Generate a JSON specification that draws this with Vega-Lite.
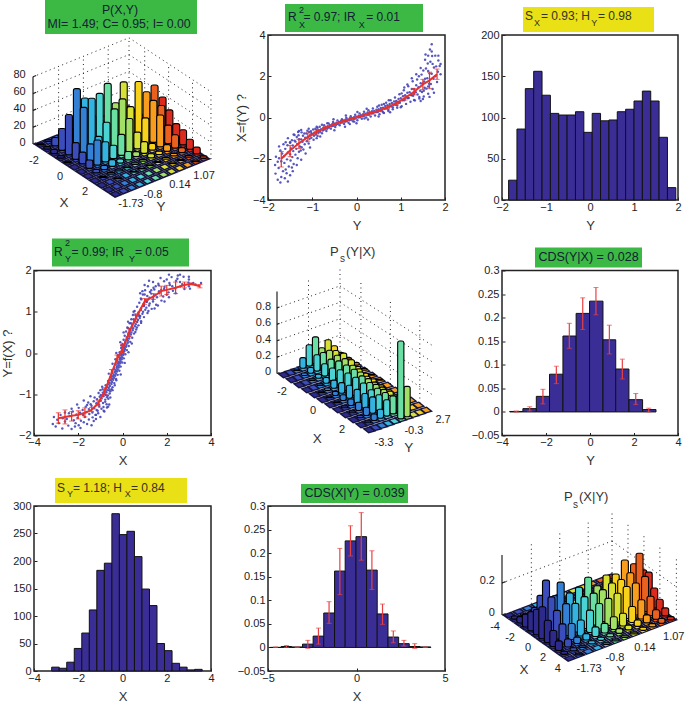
{"$schema":"https://vega.github.io/schema/vega-lite/v6.json","padding":{"left":0,"top":0,"right":0,"bottom":0},"background":"white",
"config":{"font":"Liberation Sans","view":{"stroke":"#222","strokeWidth":1.5},"axis":{"grid":false,"domain":false,"tickSize":-3,"tickColor":"#222","labelPadding":6,"labelFontSize":11,"labelColor":"#222","titleFontSize":13,"titleFontWeight":"normal","titleColor":"#333","labelFlush":false,"labelOverlap":false},"axisX":{"labelPadding":4},"text":{"font":"Liberation Sans","color":"#222"}},
"datasets":{
"pts":[{"X":-3.15,"Y":-1.72},{"X":-3.02,"Y":-1.78},{"X":-2.88,"Y":-1.7},{"X":-2.72,"Y":-1.83},{"X":-2.6,"Y":-1.66},{"X":-2.45,"Y":-1.76},{"X":-2.3,"Y":-1.84},{"X":-2.12,"Y":-1.7},{"X":-1.98,"Y":-1.75},{"X":-1.75,"Y":-1.68},{"X":-3.1,"Y":-1.55},{"X":-2.95,"Y":-1.62},{"X":-2.7,"Y":-1.58},{"X":-2.52,"Y":-1.6},{"X":-2.38,"Y":-1.53},{"X":-2.2,"Y":-1.63},{"X":-2.03,"Y":-1.57},{"X":-1.88,"Y":-1.64},{"X":-1.7,"Y":-1.55},{"X":-1.52,"Y":-1.61},{"X":-2.42,"Y":-1.46},{"X":-2.25,"Y":-1.42},{"X":-2.08,"Y":-1.49},{"X":-1.92,"Y":-1.45},{"X":-1.78,"Y":-1.5},{"X":-1.63,"Y":-1.43},{"X":-1.5,"Y":-1.48},{"X":-1.36,"Y":-1.44},{"X":-1.22,"Y":-1.5},{"X":-1.1,"Y":-1.46},{"X":-1.98,"Y":-1.33},{"X":-1.8,"Y":-1.38},{"X":-1.66,"Y":-1.3},{"X":-1.52,"Y":-1.36},{"X":-1.4,"Y":-1.28},{"X":-1.28,"Y":-1.34},{"X":-1.17,"Y":-1.38},{"X":-1.05,"Y":-1.3},{"X":-0.95,"Y":-1.35},{"X":-0.86,"Y":-1.31},{"X":-1.55,"Y":-1.2},{"X":-1.44,"Y":-1.24},{"X":-1.3,"Y":-1.17},{"X":-1.18,"Y":-1.22},{"X":-1.06,"Y":-1.25},{"X":-0.98,"Y":-1.16},{"X":-0.88,"Y":-1.21},{"X":-0.78,"Y":-1.18},{"X":-0.72,"Y":-1.24},{"X":-1.26,"Y":-1.08},{"X":-1.15,"Y":-1.12},{"X":-1.03,"Y":-1.06},{"X":-0.94,"Y":-1.1},{"X":-0.86,"Y":-1.05},{"X":-0.78,"Y":-1.13},{"X":-0.7,"Y":-1.07},{"X":-0.64,"Y":-1.11},{"X":-1.08,"Y":-0.97},{"X":-0.98,"Y":-1.02},{"X":-0.89,"Y":-0.96},{"X":-0.81,"Y":-1},{"X":-0.73,"Y":-0.95},{"X":-0.66,"Y":-1.03},{"X":-0.58,"Y":-0.98},{"X":-0.9,"Y":-0.88},{"X":-0.82,"Y":-0.92},{"X":-0.74,"Y":-0.86},{"X":-0.68,"Y":-0.9},{"X":-0.62,"Y":-0.85},{"X":-0.55,"Y":-0.93},{"X":-0.5,"Y":-0.88},{"X":-0.76,"Y":-0.78},{"X":-0.69,"Y":-0.82},{"X":-0.63,"Y":-0.76},{"X":-0.57,"Y":-0.8},{"X":-0.5,"Y":-0.75},{"X":-0.45,"Y":-0.83},{"X":-0.65,"Y":-0.68},{"X":-0.58,"Y":-0.72},{"X":-0.53,"Y":-0.66},{"X":-0.47,"Y":-0.7},{"X":-0.42,"Y":-0.65},{"X":-0.37,"Y":-0.73},{"X":-0.54,"Y":-0.58},{"X":-0.48,"Y":-0.62},{"X":-0.43,"Y":-0.56},{"X":-0.38,"Y":-0.6},{"X":-0.33,"Y":-0.55},{"X":-0.29,"Y":-0.63},{"X":-0.46,"Y":-0.48},{"X":-0.4,"Y":-0.52},{"X":-0.35,"Y":-0.46},{"X":-0.3,"Y":-0.5},{"X":-0.25,"Y":-0.45},{"X":-0.22,"Y":-0.53},{"X":-0.38,"Y":-0.38},{"X":-0.31,"Y":-0.42},{"X":-0.27,"Y":-0.36},{"X":-0.22,"Y":-0.4},{"X":-0.17,"Y":-0.35},{"X":-0.14,"Y":-0.43},{"X":-0.31,"Y":-0.28},{"X":-0.24,"Y":-0.32},{"X":-0.2,"Y":-0.26},{"X":-0.15,"Y":-0.3},{"X":-0.11,"Y":-0.25},{"X":-0.08,"Y":-0.33},{"X":-0.25,"Y":-0.18},{"X":-0.18,"Y":-0.22},{"X":-0.13,"Y":-0.16},{"X":-0.09,"Y":-0.2},{"X":-0.04,"Y":-0.15},{"X":-0.01,"Y":-0.23},{"X":-0.18,"Y":-0.08},{"X":-0.11,"Y":-0.12},{"X":-0.07,"Y":-0.06},{"X":-0.02,"Y":-0.1},{"X":0.03,"Y":-0.05},{"X":0.06,"Y":-0.13},{"X":-0.13,"Y":0.02},{"X":-0.05,"Y":-0.02},{"X":0,"Y":0.04},{"X":0.04,"Y":0},{"X":0.09,"Y":0.05},{"X":0.13,"Y":-0.03},{"X":-0.06,"Y":0.12},{"X":0.01,"Y":0.08},{"X":0.06,"Y":0.14},{"X":0.11,"Y":0.1},{"X":0.16,"Y":0.15},{"X":0.2,"Y":0.07},{"X":0,"Y":0.22},{"X":0.08,"Y":0.18},{"X":0.13,"Y":0.24},{"X":0.18,"Y":0.2},{"X":0.24,"Y":0.25},{"X":0.28,"Y":0.17},{"X":0.05,"Y":0.32},{"X":0.13,"Y":0.28},{"X":0.2,"Y":0.34},{"X":0.25,"Y":0.3},{"X":0.3,"Y":0.35},{"X":0.35,"Y":0.27},{"X":0.1,"Y":0.42},{"X":0.2,"Y":0.38},{"X":0.26,"Y":0.44},{"X":0.32,"Y":0.4},{"X":0.38,"Y":0.45},{"X":0.44,"Y":0.37},{"X":0.16,"Y":0.52},{"X":0.27,"Y":0.48},{"X":0.33,"Y":0.54},{"X":0.4,"Y":0.5},{"X":0.46,"Y":0.55},{"X":0.52,"Y":0.47},{"X":0.22,"Y":0.62},{"X":0.33,"Y":0.58},{"X":0.42,"Y":0.64},{"X":0.48,"Y":0.6},{"X":0.56,"Y":0.65},{"X":0.62,"Y":0.57},{"X":0.32,"Y":0.72},{"X":0.44,"Y":0.68},{"X":0.52,"Y":0.74},{"X":0.6,"Y":0.7},{"X":0.66,"Y":0.75},{"X":0.72,"Y":0.67},{"X":0.4,"Y":0.82},{"X":0.54,"Y":0.78},{"X":0.62,"Y":0.84},{"X":0.7,"Y":0.8},{"X":0.78,"Y":0.85},{"X":0.84,"Y":0.77},{"X":0.47,"Y":0.92},{"X":0.62,"Y":0.88},{"X":0.72,"Y":0.94},{"X":0.8,"Y":0.9},{"X":0.9,"Y":0.95},{"X":0.97,"Y":0.87},{"X":0.55,"Y":1.02},{"X":0.72,"Y":0.98},{"X":0.83,"Y":1.04},{"X":0.93,"Y":1},{"X":1.03,"Y":1.05},{"X":1.13,"Y":0.97},{"X":0.66,"Y":1.12},{"X":0.84,"Y":1.08},{"X":0.97,"Y":1.14},{"X":1.08,"Y":1.1},{"X":1.2,"Y":1.15},{"X":1.32,"Y":1.07},{"X":0.76,"Y":1.22},{"X":0.95,"Y":1.18},{"X":1.1,"Y":1.24},{"X":1.23,"Y":1.2},{"X":1.38,"Y":1.25},{"X":1.52,"Y":1.17},{"X":0.83,"Y":1.32},{"X":1.05,"Y":1.28},{"X":1.22,"Y":1.34},{"X":1.38,"Y":1.3},{"X":1.56,"Y":1.35},{"X":1.76,"Y":1.27},{"X":0.92,"Y":1.42},{"X":1.12,"Y":1.38},{"X":1.3,"Y":1.44},{"X":1.47,"Y":1.4},{"X":1.66,"Y":1.45},{"X":1.84,"Y":1.37},{"X":2,"Y":1.41},{"X":1.02,"Y":1.52},{"X":1.24,"Y":1.48},{"X":1.44,"Y":1.54},{"X":1.65,"Y":1.5},{"X":1.88,"Y":1.55},{"X":2.08,"Y":1.47},{"X":2.28,"Y":1.51},{"X":1.15,"Y":1.62},{"X":1.4,"Y":1.58},{"X":1.64,"Y":1.64},{"X":1.9,"Y":1.6},{"X":2.14,"Y":1.65},{"X":2.38,"Y":1.57},{"X":2.62,"Y":1.61},{"X":3.05,"Y":1.56},{"X":1.38,"Y":1.72},{"X":1.62,"Y":1.68},{"X":1.88,"Y":1.74},{"X":2.12,"Y":1.7},{"X":2.42,"Y":1.75},{"X":2.7,"Y":1.67},{"X":2.98,"Y":1.71},{"X":3.3,"Y":1.66},{"X":3.55,"Y":1.7},{"X":1.72,"Y":1.82},{"X":2,"Y":1.78},{"X":2.22,"Y":1.84},{"X":2.48,"Y":1.8},{"X":2.76,"Y":1.85},{"X":3,"Y":1.78},{"X":2.1,"Y":1.9},{"X":2.5,"Y":1.88},{"X":-1.6,"Y":-1.26},{"X":-1.12,"Y":-1.4},{"X":-0.82,"Y":-1.42},{"X":-0.7,"Y":-1.32},{"X":-1.35,"Y":-1.56},{"X":-1.2,"Y":-1.6},{"X":-2.15,"Y":-1.78},{"X":-1.6,"Y":-1.72},{"X":-0.45,"Y":-0.9},{"X":-0.92,"Y":-0.82},{"X":-0.55,"Y":-1.08},{"X":-1,"Y":-0.9},{"X":-0.35,"Y":-0.78},{"X":0.25,"Y":0.6},{"X":0.5,"Y":0.82},{"X":0.65,"Y":0.62},{"X":0.75,"Y":0.9},{"X":0.95,"Y":1.16},{"X":0.85,"Y":1.3},{"X":1,"Y":1.42},{"X":1.15,"Y":1.3},{"X":1.3,"Y":1.52},{"X":1.5,"Y":1.62},{"X":1.75,"Y":1.53},{"X":2.25,"Y":1.62},{"X":2.6,"Y":1.72},{"X":-0.75,"Y":-1.02},{"X":-0.6,"Y":-0.9},{"X":-0.28,"Y":-0.66},{"X":0.38,"Y":0.72},{"X":0.58,"Y":0.92},{"X":1.08,"Y":1.24},{"X":-0.05,"Y":0.18},{"X":0.3,"Y":0.48},{"X":-0.2,"Y":-0.05},{"X":-0.32,"Y":-0.15},{"X":-0.62,"Y":-0.5},{"X":-0.08,"Y":-0.52},{"X":-0.45,"Y":-0.26},{"X":0.1,"Y":-0.24},{"X":-0.28,"Y":0},{"X":0.27,"Y":0.02},{"X":-0.1,"Y":0.26},{"X":0.42,"Y":0.23},{"X":0.05,"Y":0.5},{"X":0.58,"Y":0.51},{"X":0.25,"Y":0.76},{"X":0.84,"Y":0.73},{"X":0.5,"Y":1},{"X":1.17,"Y":1.02},{"X":-1.3,"Y":-1.65},{"X":-1.2,"Y":-1.5},{"X":-0.85,"Y":-1.4},{"X":-1,"Y":-1.55},{"X":-0.65,"Y":-1.3},{"X":-0.6,"Y":-1.25},{"X":-1.4,"Y":-1.75},{"X":-1.9,"Y":-1.82},{"X":-2.8,"Y":-1.5},{"X":-2.6,"Y":-1.44},{"X":-2.3,"Y":-1.35},{"X":-2.05,"Y":-1.25},{"X":-1.75,"Y":-1.15},{"X":-1.45,"Y":-1.05},{"X":1.2,"Y":1.75},{"X":1,"Y":1.65},{"X":0.9,"Y":1.5},{"X":0.8,"Y":1.45},{"X":3,"Y":1.85},{"X":2.6,"Y":1.9},{"X":3,"Y":1.62},{"X":3.2,"Y":1.7},{"X":2.8,"Y":1.55},{"X":2.4,"Y":1.45},{"X":2.1,"Y":1.35},{"X":1.9,"Y":1.25},{"X":1.6,"Y":1.15},{"X":1.45,"Y":1.08}],
"p1":[{"i":0,"j":11,"z":0},{"i":0,"j":10,"z":0},{"i":0,"j":9,"z":0},{"i":0,"j":8,"z":0},{"i":0,"j":7,"z":0},{"i":0,"j":6,"z":0},{"i":0,"j":5,"z":0},{"i":0,"j":4,"z":0},{"i":0,"j":3,"z":0},{"i":0,"j":2,"z":0},{"i":0,"j":1,"z":2},{"i":0,"j":0,"z":1},
{"i":1,"j":11,"z":0},{"i":1,"j":10,"z":0},{"i":1,"j":9,"z":0},{"i":1,"j":8,"z":0},{"i":1,"j":7,"z":0},{"i":1,"j":6,"z":0},{"i":1,"j":5,"z":0},{"i":1,"j":4,"z":0},{"i":1,"j":3,"z":1},{"i":1,"j":2,"z":4},{"i":1,"j":1,"z":10},{"i":1,"j":0,"z":3},
{"i":2,"j":11,"z":0},{"i":2,"j":10,"z":0},{"i":2,"j":9,"z":0},{"i":2,"j":8,"z":0},{"i":2,"j":7,"z":0},{"i":2,"j":6,"z":0},{"i":2,"j":5,"z":0},{"i":2,"j":4,"z":2},{"i":2,"j":3,"z":8},{"i":2,"j":2,"z":20},{"i":2,"j":1,"z":26},{"i":2,"j":0,"z":5},
{"i":3,"j":11,"z":0},{"i":3,"j":10,"z":0},{"i":3,"j":9,"z":0},{"i":3,"j":8,"z":0},{"i":3,"j":7,"z":2},{"i":3,"j":6,"z":8},{"i":3,"j":5,"z":18},{"i":3,"j":4,"z":35},{"i":3,"j":3,"z":60},{"i":3,"j":2,"z":75},{"i":3,"j":1,"z":48},{"i":3,"j":0,"z":3},
{"i":4,"j":11,"z":0},{"i":4,"j":10,"z":2},{"i":4,"j":9,"z":8},{"i":4,"j":8,"z":22},{"i":4,"j":7,"z":69},{"i":4,"j":6,"z":48},{"i":4,"j":5,"z":75},{"i":4,"j":4,"z":67},{"i":4,"j":3,"z":65},{"i":4,"j":2,"z":58},{"i":4,"j":1,"z":20},{"i":4,"j":0,"z":1},
{"i":5,"j":11,"z":41},{"i":5,"j":10,"z":59},{"i":5,"j":9,"z":55},{"i":5,"j":8,"z":71},{"i":5,"j":7,"z":45},{"i":5,"j":6,"z":58},{"i":5,"j":5,"z":50},{"i":5,"j":4,"z":38},{"i":5,"j":3,"z":25},{"i":5,"j":2,"z":20},{"i":5,"j":1,"z":14},{"i":5,"j":0,"z":0},
{"i":6,"j":11,"z":31},{"i":6,"j":10,"z":40},{"i":6,"j":9,"z":50},{"i":6,"j":8,"z":33},{"i":6,"j":7,"z":20},{"i":6,"j":6,"z":40},{"i":6,"j":5,"z":25},{"i":6,"j":4,"z":16},{"i":6,"j":3,"z":24},{"i":6,"j":2,"z":30},{"i":6,"j":1,"z":10},{"i":6,"j":0,"z":0},
{"i":7,"j":11,"z":20},{"i":7,"j":10,"z":22},{"i":7,"j":9,"z":38},{"i":7,"j":8,"z":8},{"i":7,"j":7,"z":14},{"i":7,"j":6,"z":6},{"i":7,"j":5,"z":10},{"i":7,"j":4,"z":5},{"i":7,"j":3,"z":8},{"i":7,"j":2,"z":5},{"i":7,"j":1,"z":4},{"i":7,"j":0,"z":0},
{"i":8,"j":11,"z":18},{"i":8,"j":10,"z":16},{"i":8,"j":9,"z":8},{"i":8,"j":8,"z":4},{"i":8,"j":7,"z":5},{"i":8,"j":6,"z":2},{"i":8,"j":5,"z":2},{"i":8,"j":4,"z":1},{"i":8,"j":3,"z":2},{"i":8,"j":2,"z":2},{"i":8,"j":1,"z":1},{"i":8,"j":0,"z":0},
{"i":9,"j":11,"z":12},{"i":9,"j":10,"z":6},{"i":9,"j":9,"z":3},{"i":9,"j":8,"z":2},{"i":9,"j":7,"z":1},{"i":9,"j":6,"z":1},{"i":9,"j":5,"z":1},{"i":9,"j":4,"z":1},{"i":9,"j":3,"z":0},{"i":9,"j":2,"z":1},{"i":9,"j":1,"z":0},{"i":9,"j":0,"z":0},
{"i":10,"j":11,"z":8},{"i":10,"j":10,"z":2},{"i":10,"j":9,"z":1},{"i":10,"j":8,"z":1},{"i":10,"j":7,"z":0},{"i":10,"j":6,"z":0},{"i":10,"j":5,"z":0},{"i":10,"j":4,"z":0},{"i":10,"j":3,"z":0},{"i":10,"j":2,"z":0},{"i":10,"j":1,"z":0},{"i":10,"j":0,"z":0},
{"i":11,"j":11,"z":3},{"i":11,"j":10,"z":1},{"i":11,"j":9,"z":0},{"i":11,"j":8,"z":0},{"i":11,"j":7,"z":0},{"i":11,"j":6,"z":0},{"i":11,"j":5,"z":0},{"i":11,"j":4,"z":0},{"i":11,"j":3,"z":0},{"i":11,"j":2,"z":0},{"i":11,"j":1,"z":0},{"i":11,"j":0,"z":0}],
"p5":[{"i":0,"j":9,"z":0.03},{"i":0,"j":8,"z":0.14},{"i":0,"j":7,"z":0.24},{"i":0,"j":6,"z":0.17},{"i":0,"j":5,"z":0.33},{"i":0,"j":4,"z":0.26},{"i":0,"j":3,"z":0.13},{"i":0,"j":2,"z":0.01},{"i":0,"j":1,"z":0},{"i":0,"j":0,"z":0},
{"i":1,"j":9,"z":0.03},{"i":1,"j":8,"z":0.1},{"i":1,"j":7,"z":0.17},{"i":1,"j":6,"z":0.2},{"i":1,"j":5,"z":0.2},{"i":1,"j":4,"z":0.2},{"i":1,"j":3,"z":0.07},{"i":1,"j":2,"z":0.03},{"i":1,"j":1,"z":0},{"i":1,"j":0,"z":0},
{"i":2,"j":9,"z":0.03},{"i":2,"j":8,"z":0.1},{"i":2,"j":7,"z":0.2},{"i":2,"j":6,"z":0.2},{"i":2,"j":5,"z":0.18},{"i":2,"j":4,"z":0.15},{"i":2,"j":3,"z":0.05},{"i":2,"j":2,"z":0.02},{"i":2,"j":1,"z":0},{"i":2,"j":0,"z":0},
{"i":3,"j":9,"z":0.02},{"i":3,"j":8,"z":0.07},{"i":3,"j":7,"z":0.18},{"i":3,"j":6,"z":0.22},{"i":3,"j":5,"z":0.22},{"i":3,"j":4,"z":0.16},{"i":3,"j":3,"z":0.07},{"i":3,"j":2,"z":0.02},{"i":3,"j":1,"z":0},{"i":3,"j":0,"z":0},
{"i":4,"j":9,"z":0.01},{"i":4,"j":8,"z":0.05},{"i":4,"j":7,"z":0.13},{"i":4,"j":6,"z":0.2},{"i":4,"j":5,"z":0.23},{"i":4,"j":4,"z":0.2},{"i":4,"j":3,"z":0.1},{"i":4,"j":2,"z":0.03},{"i":4,"j":1,"z":0.01},{"i":4,"j":0,"z":0},
{"i":5,"j":9,"z":0.01},{"i":5,"j":8,"z":0.04},{"i":5,"j":7,"z":0.1},{"i":5,"j":6,"z":0.18},{"i":5,"j":5,"z":0.24},{"i":5,"j":4,"z":0.22},{"i":5,"j":3,"z":0.13},{"i":5,"j":2,"z":0.05},{"i":5,"j":1,"z":0.01},{"i":5,"j":0,"z":0},
{"i":6,"j":9,"z":0},{"i":6,"j":8,"z":0.03},{"i":6,"j":7,"z":0.09},{"i":6,"j":6,"z":0.16},{"i":6,"j":5,"z":0.22},{"i":6,"j":4,"z":0.23},{"i":6,"j":3,"z":0.16},{"i":6,"j":2,"z":0.07},{"i":6,"j":1,"z":0.01},{"i":6,"j":0,"z":0},
{"i":7,"j":9,"z":0},{"i":7,"j":8,"z":0.03},{"i":7,"j":7,"z":0.09},{"i":7,"j":6,"z":0.15},{"i":7,"j":5,"z":0.2},{"i":7,"j":4,"z":0.22},{"i":7,"j":3,"z":0.17},{"i":7,"j":2,"z":0.08},{"i":7,"j":1,"z":0.02},{"i":7,"j":0,"z":0},
{"i":8,"j":9,"z":0},{"i":8,"j":8,"z":0.03},{"i":8,"j":7,"z":0.1},{"i":8,"j":6,"z":0.15},{"i":8,"j":5,"z":0.19},{"i":8,"j":4,"z":0.2},{"i":8,"j":3,"z":0.18},{"i":8,"j":2,"z":0.1},{"i":8,"j":1,"z":0.02},{"i":8,"j":0,"z":0},
{"i":9,"j":9,"z":0},{"i":9,"j":8,"z":0.02},{"i":9,"j":7,"z":0.08},{"i":9,"j":6,"z":0.14},{"i":9,"j":5,"z":0.2},{"i":9,"j":4,"z":0.2},{"i":9,"j":3,"z":0.2},{"i":9,"j":2,"z":0.1},{"i":9,"j":1,"z":0.03},{"i":9,"j":0,"z":0},
{"i":10,"j":9,"z":0},{"i":10,"j":8,"z":0},{"i":10,"j":7,"z":0.12},{"i":10,"j":6,"z":0.2},{"i":10,"j":5,"z":0.22},{"i":10,"j":4,"z":0.2},{"i":10,"j":3,"z":0.11},{"i":10,"j":2,"z":0.08},{"i":10,"j":1,"z":0.02},{"i":10,"j":0,"z":0},
{"i":11,"j":9,"z":0},{"i":11,"j":8,"z":0},{"i":11,"j":7,"z":0},{"i":11,"j":6,"z":0.37},{"i":11,"j":5,"z":0.95},{"i":11,"j":4,"z":0},{"i":11,"j":3,"z":0},{"i":11,"j":2,"z":0},{"i":11,"j":1,"z":0},{"i":11,"j":0,"z":0}],
"p9":[{"i":0,"j":11,"z":0},{"i":0,"j":10,"z":0},{"i":0,"j":9,"z":0},{"i":0,"j":8,"z":0},{"i":0,"j":7,"z":0},{"i":0,"j":6,"z":0},{"i":0,"j":5,"z":0},{"i":0,"j":4,"z":0},{"i":0,"j":3,"z":0},{"i":0,"j":2,"z":0},{"i":0,"j":1,"z":0},{"i":0,"j":0,"z":0},
{"i":1,"j":11,"z":0},{"i":1,"j":10,"z":0},{"i":1,"j":9,"z":0},{"i":1,"j":8,"z":0},{"i":1,"j":7,"z":0},{"i":1,"j":6,"z":0},{"i":1,"j":5,"z":0},{"i":1,"j":4,"z":0},{"i":1,"j":3,"z":0},{"i":1,"j":2,"z":0.01},{"i":1,"j":1,"z":0.01},{"i":1,"j":0,"z":0.02},
{"i":2,"j":11,"z":0},{"i":2,"j":10,"z":0},{"i":2,"j":9,"z":0},{"i":2,"j":8,"z":0},{"i":2,"j":7,"z":0},{"i":2,"j":6,"z":0},{"i":2,"j":5,"z":0},{"i":2,"j":4,"z":0.01},{"i":2,"j":3,"z":0.02},{"i":2,"j":2,"z":0.02},{"i":2,"j":1,"z":0.03},{"i":2,"j":0,"z":0.04},
{"i":3,"j":11,"z":0},{"i":3,"j":10,"z":0},{"i":3,"j":9,"z":0},{"i":3,"j":8,"z":0},{"i":3,"j":7,"z":0},{"i":3,"j":6,"z":0.01},{"i":3,"j":5,"z":0.01},{"i":3,"j":4,"z":0.02},{"i":3,"j":3,"z":0.03},{"i":3,"j":2,"z":0.05},{"i":3,"j":1,"z":0.1},{"i":3,"j":0,"z":0.08},
{"i":4,"j":11,"z":0},{"i":4,"j":10,"z":0},{"i":4,"j":9,"z":0},{"i":4,"j":8,"z":0.01},{"i":4,"j":7,"z":0.01},{"i":4,"j":6,"z":0.02},{"i":4,"j":5,"z":0.03},{"i":4,"j":4,"z":0.05},{"i":4,"j":3,"z":0.08},{"i":4,"j":2,"z":0.1},{"i":4,"j":1,"z":0.2},{"i":4,"j":0,"z":0.12},
{"i":5,"j":11,"z":0.01},{"i":5,"j":10,"z":0.02},{"i":5,"j":9,"z":0.03},{"i":5,"j":8,"z":0.03},{"i":5,"j":7,"z":0.05},{"i":5,"j":6,"z":0.05},{"i":5,"j":5,"z":0.07},{"i":5,"j":4,"z":0.1},{"i":5,"j":3,"z":0.14},{"i":5,"j":2,"z":0.2},{"i":5,"j":1,"z":0.32},{"i":5,"j":0,"z":0.16},
{"i":6,"j":11,"z":0.19},{"i":6,"j":10,"z":0.25},{"i":6,"j":9,"z":0.295},{"i":6,"j":8,"z":0.23},{"i":6,"j":7,"z":0.245},{"i":6,"j":6,"z":0.2},{"i":6,"j":5,"z":0.275},{"i":6,"j":4,"z":0.235},{"i":6,"j":3,"z":0.22},{"i":6,"j":2,"z":0.31},{"i":6,"j":1,"z":0.24},{"i":6,"j":0,"z":0.2},
{"i":7,"j":11,"z":0.2},{"i":7,"j":10,"z":0.34},{"i":7,"j":9,"z":0.24},{"i":7,"j":8,"z":0.22},{"i":7,"j":7,"z":0.22},{"i":7,"j":6,"z":0.2},{"i":7,"j":5,"z":0.2},{"i":7,"j":4,"z":0.2},{"i":7,"j":3,"z":0.18},{"i":7,"j":2,"z":0.2},{"i":7,"j":1,"z":0.18},{"i":7,"j":0,"z":0.14},
{"i":8,"j":11,"z":0.125},{"i":8,"j":10,"z":0.22},{"i":8,"j":9,"z":0.2},{"i":8,"j":8,"z":0.2},{"i":8,"j":7,"z":0.18},{"i":8,"j":6,"z":0.17},{"i":8,"j":5,"z":0.16},{"i":8,"j":4,"z":0.14},{"i":8,"j":3,"z":0.1},{"i":8,"j":2,"z":0.1},{"i":8,"j":1,"z":0.12},{"i":8,"j":0,"z":0.1},
{"i":9,"j":11,"z":0.08},{"i":9,"j":10,"z":0.12},{"i":9,"j":9,"z":0.12},{"i":9,"j":8,"z":0.1},{"i":9,"j":7,"z":0.08},{"i":9,"j":6,"z":0.08},{"i":9,"j":5,"z":0.06},{"i":9,"j":4,"z":0.06},{"i":9,"j":3,"z":0.04},{"i":9,"j":2,"z":0.04},{"i":9,"j":1,"z":0.05},{"i":9,"j":0,"z":0.06},
{"i":10,"j":11,"z":0.05},{"i":10,"j":10,"z":0.06},{"i":10,"j":9,"z":0.05},{"i":10,"j":8,"z":0.04},{"i":10,"j":7,"z":0.03},{"i":10,"j":6,"z":0.03},{"i":10,"j":5,"z":0.02},{"i":10,"j":4,"z":0.02},{"i":10,"j":3,"z":0.02},{"i":10,"j":2,"z":0.01},{"i":10,"j":1,"z":0.02},{"i":10,"j":0,"z":0.02},
{"i":11,"j":11,"z":0.02},{"i":11,"j":10,"z":0.03},{"i":11,"j":9,"z":0.02},{"i":11,"j":8,"z":0.02},{"i":11,"j":7,"z":0.01},{"i":11,"j":6,"z":0.01},{"i":11,"j":5,"z":0.01},{"i":11,"j":4,"z":0.01},{"i":11,"j":3,"z":0},{"i":11,"j":2,"z":0},{"i":11,"j":1,"z":0.01},{"i":11,"j":0,"z":0}]
},
"spacing":235.5,"bounds":"flush",
"vconcat":[
{"spacing":57,"bounds":"flush","hconcat":[
{"width":177,"height":165,"view":{"stroke":null},
"encoding":{"x":{"field":"x","type":"quantitative","scale":{"domain":[0,177]},"axis":null},"y":{"field":"y","type":"quantitative","scale":{"domain":[165,0]},"axis":null}},
"layer":[
{"data":{"values":[{"a":0,"b":0,"c":20,"d":0,"e":12,"f":20},{"a":0,"b":0,"c":40,"d":0,"e":12,"f":40},{"a":0,"b":0,"c":60,"d":0,"e":12,"f":60},{"a":0,"b":0,"c":80,"d":0,"e":12,"f":80},{"a":0,"b":12,"c":20,"d":12,"e":12,"f":20},{"a":0,"b":12,"c":40,"d":12,"e":12,"f":40},{"a":0,"b":12,"c":60,"d":12,"e":12,"f":60},{"a":0,"b":12,"c":80,"d":12,"e":12,"f":80},{"a":0,"b":3.2,"c":0,"d":0,"e":3.2,"f":80},{"a":0,"b":6.3,"c":0,"d":0,"e":6.3,"f":80},{"a":0,"b":9.4,"c":0,"d":0,"e":9.4,"f":80},{"a":0,"b":12,"c":0,"d":0,"e":12,"f":80},{"a":2.3,"b":12,"c":0,"d":2.3,"e":12,"f":80},{"a":5.8,"b":12,"c":0,"d":5.8,"e":12,"f":80},{"a":9.3,"b":12,"c":0,"d":9.3,"e":12,"f":80},{"a":12,"b":12,"c":0,"d":12,"e":12,"f":80}]},
"transform":[{"calculate":"-1+6.83*datum.a+8*datum.b","as":"x"},{"calculate":"109+4.5*datum.a-3.25*datum.b-.84*datum.c","as":"y"},{"calculate":"-1+6.83*datum.d+8*datum.e","as":"x2"},{"calculate":"109+4.5*datum.d-3.25*datum.e-.84*datum.f","as":"y2"}],
"mark":{"type":"rule","strokeDash":[1,3.5],"color":"#222","strokeWidth":1},"encoding":{"x2":{"field":"x2"},"y2":{"field":"y2"}}},
{"data":{"name":"p1"},"transform":[{"calculate":"-1+6.83*(datum.i+.5)+8*(datum.j+.5)","as":"x"},{"calculate":"109+4.5*(datum.i+.5)-3.25*(datum.j+.5)","as":"y"}],
"mark":{"type":"point","filled":true,"opacity":1,"color":"#14143a","shape":"M-.93,-.08L-.07,.49L.93,.08L.07,-.49Z","size":260}},
{"data":{"name":"p1"},"transform":[{"calculate":"-1+6.83*(datum.i+.5)+8*(datum.j+.5)","as":"x"},{"calculate":"109+4.5*(datum.i+.5)-3.25*(datum.j+.5)","as":"y"}],
"mark":{"type":"point","filled":true,"opacity":1,"shape":"M-.93,-.08L-.07,.49L.93,.08L.07,-.49Z","size":70},
"encoding":{"color":{"field":"j","type":"quantitative","scale":{"domain":[0,2,3,4,5,6,7,8,9,10,11],"range":["#2e2a8c","#3c50c0","#3a8ad8","#45c0e0","#5fdcc8","#88dc80","#c8e040","#f4e020","#f8a820","#ee6420","#dc2a1c"]},"legend":null}}},
{"data":{"name":"p1"},"transform":[{"filter":"datum.z>0"},{"calculate":"-1+6.83*(datum.i+.5)+8*(datum.j+.5)","as":"u"},{"calculate":"109+4.5*(datum.i+.5)-3.25*(datum.j+.5)","as":"y2"},{"calculate":"datum.y2-.84*datum.z","as":"y"},{"calculate":"datum.u-3.5","as":"x"},{"calculate":"datum.u+3.5","as":"x2"}],
"mark":{"type":"rect","stroke":"#000","strokeWidth":1.1,"cornerRadius":2},
"encoding":{"x2":{"field":"x2"},"y2":{"field":"y2"},"color":{"field":"j","type":"quantitative","scale":{"domain":[0,2,3,4,5,6,7,8,9,10,11],"range":["#2e2a8c","#3c50c0","#3a8ad8","#45c0e0","#5fdcc8","#88dc80","#c8e040","#f4e020","#f8a820","#ee6420","#dc2a1c"]},"legend":null}}},
{"data":{"values":[{"a":0,"b":0,"c":0,"d":0,"e":0,"f":80},{"a":0,"b":0,"c":0,"d":0,"e":0.4,"f":0},{"a":0,"b":0,"c":20,"d":0,"e":0.4,"f":20},{"a":0,"b":0,"c":40,"d":0,"e":0.4,"f":40},{"a":0,"b":0,"c":60,"d":0,"e":0.4,"f":60},{"a":0,"b":0,"c":80,"d":0,"e":0.4,"f":80}]},
"transform":[{"calculate":"-1+6.83*datum.a+8*datum.b","as":"x"},{"calculate":"109+4.5*datum.a-3.25*datum.b-.84*datum.c","as":"y"},{"calculate":"-1+6.83*datum.d+8*datum.e","as":"x2"},{"calculate":"109+4.5*datum.d-3.25*datum.e-.84*datum.f","as":"y2"}],
"mark":{"type":"rule","color":"#222","strokeWidth":1.2},"encoding":{"x2":{"field":"x2"},"y2":{"field":"y2"}}},
{"data":{"values":[{"t":"-2","i":2.39,"j":-1.92,"z":0},{"t":"0","i":6.04,"j":-1.78,"z":0},{"t":"2","i":9.5,"j":-1.61,"z":0},{"t":"-1.73","i":13.7,"j":0.54,"z":0},{"t":"-0.8","i":13.7,"j":3.3,"z":0},{"t":"0.14","i":13.84,"j":6.55,"z":0},{"t":"1.07","i":13.95,"j":9.47,"z":0}]},
"transform":[{"calculate":"-1+6.83*datum.i+8*datum.j","as":"x"},{"calculate":"109+4.5*datum.i-3.25*datum.j","as":"y"}],"mark":{"type":"text","fontSize":11,"baseline":"middle"},"encoding":{"text":{"field":"t"}}},
{"data":{"values":[{"t":"0","i":-0.6,"j":-0.4,"z":0},{"t":"20","i":-0.6,"j":-0.4,"z":20},{"t":"40","i":-0.6,"j":-0.4,"z":40},{"t":"60","i":-0.6,"j":-0.4,"z":60},{"t":"80","i":-0.6,"j":-0.4,"z":80}]},
"transform":[{"calculate":"-1+6.83*datum.i+8*datum.j","as":"x"},{"calculate":"109+4.5*datum.i-3.25*datum.j-.84*datum.z","as":"y"}],"mark":{"type":"text","fontSize":11,"baseline":"middle","align":"right"},"encoding":{"text":{"field":"t"}}},
{"data":{"values":[{"t":"X","i":9.84,"j":-4.53},{"t":"Y","i":15.8,"j":2.5}]},
"transform":[{"calculate":"-1+6.83*datum.i+8*datum.j","as":"x"},{"calculate":"109+4.5*datum.i-3.25*datum.j","as":"y"}],"mark":{"type":"text","fontSize":13.5,"baseline":"middle","color":"#333"},"encoding":{"text":{"field":"t"}}},
{"data":{"values":[{"x":11,"x2":163,"y":-35,"y2":-1}]},"mark":{"type":"rect","fill":"#3cb944"},"encoding":{"x2":{"field":"x2"},"y2":{"field":"y2"}}},
{"data":{"values":[{"t":"P(X,Y)","x":86,"y":-25},{"t":"MI= 1.49; C= 0.95; I= 0.00","x":85,"y":-11}]},"mark":{"type":"text","fontSize":12.3,"baseline":"middle","color":"#123"},"encoding":{"text":{"field":"t"}}}
]},
{"width":177,"height":165,
"encoding":{"x":{"field":"x","type":"quantitative","scale":{"domain":[-2,2]},"axis":{"title":"Y","values":[-2,-1,0,1,2],"titlePadding":7,"format":"d"}},"y":{"field":"y","type":"quantitative","scale":{"domain":[-4,4]},"axis":{"title":"X=f(Y) ?","values":[-4,-2,0,2,4],"titlePadding":4,"format":"d"}}},
"layer":[
{"data":{"name":"pts"},"transform":[{"calculate":"datum.Y","as":"x"},{"calculate":"datum.X","as":"y"}],"mark":{"type":"circle","size":6,"color":"#4444b8","opacity":0.9}},
{"data":{"values":[{"x":-1.7,"y":-2,"lo":-2.4,"hi":-1.65},{"x":-1.5,"y":-1.6,"lo":-1.9,"hi":-1.35},{"x":-1.3,"y":-1.25,"lo":-1.5,"hi":-1.05},{"x":-1.1,"y":-0.95,"lo":-1.15,"hi":-0.75},{"x":-0.9,"y":-0.7,"lo":-0.8,"hi":-0.6},{"x":-0.7,"y":-0.5,"lo":-0.57,"hi":-0.43},{"x":-0.5,"y":-0.33,"lo":-0.38,"hi":-0.28},{"x":-0.3,"y":-0.18,"lo":-0.22,"hi":-0.14},{"x":-0.1,"y":-0.05,"lo":-0.08,"hi":-0.02},{"x":0.1,"y":0.07,"lo":0.04,"hi":0.1},{"x":0.3,"y":0.2,"lo":0.16,"hi":0.24},{"x":0.5,"y":0.33,"lo":0.28,"hi":0.38},{"x":0.7,"y":0.5,"lo":0.44,"hi":0.56},{"x":0.9,"y":0.7,"lo":0.62,"hi":0.78},{"x":1.1,"y":0.95,"lo":0.85,"hi":1.05},{"x":1.3,"y":1.25,"lo":1.1,"hi":1.4},{"x":1.5,"y":1.6,"lo":1.35,"hi":1.85},{"x":1.65,"y":1.8,"lo":1.4,"hi":2.2},{"x":1.82,"y":2.1,"lo":1.85,"hi":2.35}]},
"layer":[{"mark":{"type":"line","color":"#e8302c","strokeWidth":2}},{"transform":[{"calculate":"datum.lo","as":"y"},{"calculate":"datum.hi","as":"y2"}],"mark":{"type":"errorbar","ticks":{"size":5,"color":"#e8302c"},"rule":{"color":"#e8302c","strokeWidth":1.2}},"encoding":{"y2":{"field":"y2"}}}]},
{"data":{"values":[{"x":-1.616,"x2":1.503,"y":5.5,"y2":4.145}]},"mark":{"type":"rect","fill":"#3cb944"},"encoding":{"x2":{"field":"x2"},"y2":{"field":"y2"}}},
{"data":{"values":[{"t":"R","x":-1.548,"y":4.87},{"t":"= 0.97; IR","x":-1.2,"y":4.87},{"t":"= 0.01","x":0.22,"y":4.87}]},"mark":{"type":"text","fontSize":12,"baseline":"middle","align":"left","color":"#123"},"encoding":{"text":{"field":"t"}}},
{"data":{"values":[{"t":"2","x":-1.3,"y":5.21},{"t":"X","x":-1.3,"y":4.5},{"t":"X","x":0.05,"y":4.5}]},"mark":{"type":"text","fontSize":9,"baseline":"middle","align":"left","color":"#123"},"encoding":{"text":{"field":"t"}}}
]},
{"width":176,"height":165,
"encoding":{"x":{"field":"x","type":"quantitative","scale":{"domain":[-2,2]},"axis":{"title":"Y","values":[-2,-1,0,1,2],"titlePadding":7,"format":"d"}},"y":{"field":"y","type":"quantitative","scale":{"domain":[0,200]},"axis":{"title":null,"values":[0,50,100,150,200],"format":"d"}}},
"layer":[
{"data":{"values":[{"x":-1.85,"x2":-1.66,"y":24},{"x":-1.66,"x2":-1.47,"y":86},{"x":-1.47,"x2":-1.28,"y":135},{"x":-1.28,"x2":-1.09,"y":156},{"x":-1.09,"x2":-0.9,"y":127},{"x":-0.9,"x2":-0.71,"y":105},{"x":-0.71,"x2":-0.52,"y":103},{"x":-0.52,"x2":-0.33,"y":103},{"x":-0.33,"x2":-0.14,"y":107},{"x":-0.14,"x2":0.05,"y":82},{"x":0.05,"x2":0.24,"y":105},{"x":0.24,"x2":0.43,"y":96},{"x":0.43,"x2":0.62,"y":97},{"x":0.62,"x2":0.81,"y":107},{"x":0.81,"x2":1,"y":110},{"x":1,"x2":1.19,"y":120},{"x":1.19,"x2":1.38,"y":132},{"x":1.38,"x2":1.57,"y":120},{"x":1.57,"x2":1.76,"y":76},{"x":1.76,"x2":1.95,"y":15}]},"mark":{"type":"rect","fill":"#3a2e96","stroke":"#111","strokeWidth":1},"encoding":{"x2":{"field":"x2"},"y2":{"datum":0}}},
{"data":{"values":[{"x":-1.523,"x2":1.455,"y":233.9,"y2":203.6}]},"mark":{"type":"rect","fill":"#e9e016"},"encoding":{"x2":{"field":"x2"},"y2":{"field":"y2"}}},
{"data":{"values":[{"t":"S","x":-1.477,"y":223},{"t":"= 0.93; H","x":-1.114,"y":223},{"t":"= 0.98","x":0.18,"y":223}]},"mark":{"type":"text","fontSize":12,"baseline":"middle","align":"left","color":"#332"},"encoding":{"text":{"field":"t"}}},
{"data":{"values":[{"t":"X","x":-1.273,"y":215},{"t":"Y","x":0.03,"y":215}]},"mark":{"type":"text","fontSize":9,"baseline":"middle","align":"left","color":"#332"},"encoding":{"text":{"field":"t"}}}
]}
]},
{"spacing":57,"bounds":"flush","hconcat":[
{"width":177,"height":165,
"encoding":{"x":{"field":"x","type":"quantitative","scale":{"domain":[-4,4]},"axis":{"title":"X","values":[-4,-2,0,2,4],"titlePadding":7,"format":"d"}},"y":{"field":"y","type":"quantitative","scale":{"domain":[-2,2]},"axis":{"title":"Y=f(X) ?","values":[-2,-1,0,1,2],"titlePadding":4,"format":"d"}}},
"layer":[
{"data":{"name":"pts"},"transform":[{"calculate":"datum.X","as":"x"},{"calculate":"datum.Y","as":"y"}],"mark":{"type":"circle","size":6,"color":"#4444b8","opacity":0.9}},
{"data":{"values":[{"x":-2.9,"y":-1.58,"lo":-1.7,"hi":-1.45},{"x":-2.6,"y":-1.55,"lo":-1.72,"hi":-1.38},{"x":-2.3,"y":-1.52,"lo":-1.65,"hi":-1.42},{"x":-2,"y":-1.5,"lo":-1.6,"hi":-1.4},{"x":-1.7,"y":-1.45,"lo":-1.55,"hi":-1.33},{"x":-1.4,"y":-1.38,"lo":-1.42,"hi":-1.32},{"x":-1.1,"y":-1.22,"lo":-1.28,"hi":-1.16},{"x":-0.8,"y":-0.92,"lo":-1,"hi":-0.84},{"x":-0.5,"y":-0.5,"lo":-0.6,"hi":-0.4},{"x":-0.25,"y":-0.15,"lo":-0.25,"hi":-0.05},{"x":0,"y":0.1,"lo":0,"hi":0.2},{"x":0.3,"y":0.5,"lo":0.4,"hi":0.6},{"x":0.6,"y":0.85,"lo":0.75,"hi":0.95},{"x":1,"y":1.25,"lo":1.18,"hi":1.32},{"x":1.4,"y":1.37,"lo":1.3,"hi":1.44},{"x":1.75,"y":1.5,"lo":1.38,"hi":1.62},{"x":2,"y":1.53,"lo":1.42,"hi":1.64},{"x":2.4,"y":1.58,"lo":1.44,"hi":1.72},{"x":2.8,"y":1.65,"lo":1.58,"hi":1.72},{"x":3.1,"y":1.68,"lo":1.65,"hi":1.7},{"x":3.5,"y":1.62,"lo":1.58,"hi":1.66}]},
"layer":[{"mark":{"type":"line","color":"#e8302c","strokeWidth":2}},{"transform":[{"calculate":"datum.lo","as":"y"},{"calculate":"datum.hi","as":"y2"}],"mark":{"type":"errorbar","ticks":{"size":5,"color":"#e8302c"},"rule":{"color":"#e8302c","strokeWidth":1.2}},"encoding":{"y2":{"field":"y2"}}}]},
{"data":{"values":[{"x":-3.186,"x2":3.006,"y":2.776,"y2":2.097}]},"mark":{"type":"rect","fill":"#3cb944"},"encoding":{"x2":{"field":"x2"},"y2":{"field":"y2"}}},
{"data":{"values":[{"t":"R","x":-3.096,"y":2.46},{"t":"= 0.99; IR","x":-2.3,"y":2.46},{"t":"= 0.05","x":0.56,"y":2.46}]},"mark":{"type":"text","fontSize":12,"baseline":"middle","align":"left","color":"#123"},"encoding":{"text":{"field":"t"}}},
{"data":{"values":[{"t":"2","x":-2.6,"y":2.66},{"t":"Y","x":-2.6,"y":2.28},{"t":"Y","x":0.29,"y":2.28}]},"mark":{"type":"text","fontSize":9,"baseline":"middle","align":"left","color":"#123"},"encoding":{"text":{"field":"t"}}}
]},
{"width":177,"height":165,"view":{"stroke":null},
"encoding":{"x":{"field":"x","type":"quantitative","scale":{"domain":[0,177]},"axis":null},"y":{"field":"y","type":"quantitative","scale":{"domain":[165,0]},"axis":null}},
"layer":[
{"data":{"values":[{"a":0,"b":0,"c":0.2,"d":0,"e":10,"f":0.2},{"a":0,"b":0,"c":0.4,"d":0,"e":10,"f":0.4},{"a":0,"b":0,"c":0.6,"d":0,"e":10,"f":0.6},{"a":0,"b":0,"c":0.8,"d":0,"e":10,"f":0.8},{"a":0,"b":10,"c":0.2,"d":12,"e":10,"f":0.2},{"a":0,"b":10,"c":0.4,"d":12,"e":10,"f":0.4},{"a":0,"b":10,"c":0.6,"d":12,"e":10,"f":0.6},{"a":0,"b":10,"c":0.8,"d":12,"e":10,"f":0.8},{"a":0,"b":5,"c":0,"d":0,"e":5,"f":1},{"a":0,"b":10,"c":0,"d":0,"e":10,"f":1},{"a":2.7,"b":10,"c":0,"d":2.7,"e":10,"f":1},{"a":6.5,"b":10,"c":0,"d":6.5,"e":10,"f":1},{"a":10.3,"b":10,"c":0,"d":10.3,"e":10,"f":1}]},
"transform":[{"calculate":"9+7.75*datum.a+6.3*datum.b","as":"x"},{"calculate":"103+5*datum.a-2.2*datum.b-82*datum.c","as":"y"},{"calculate":"9+7.75*datum.d+6.3*datum.e","as":"x2"},{"calculate":"103+5*datum.d-2.2*datum.e-82*datum.f","as":"y2"}],
"mark":{"type":"rule","strokeDash":[1,3.5],"color":"#222","strokeWidth":1},"encoding":{"x2":{"field":"x2"},"y2":{"field":"y2"}}},
{"data":{"name":"p5"},"transform":[{"calculate":"9+7.75*(datum.i+.5)+6.3*(datum.j+.5)","as":"x"},{"calculate":"103+5*(datum.i+.5)-2.2*(datum.j+.5)","as":"y"}],
"mark":{"type":"point","filled":true,"opacity":1,"color":"#14143a","shape":"M-.94,-.19L-.1,.48L.94,.19L.1,-.48Z","size":225}},
{"data":{"name":"p5"},"transform":[{"calculate":"9+7.75*(datum.i+.5)+6.3*(datum.j+.5)","as":"x"},{"calculate":"103+5*(datum.i+.5)-2.2*(datum.j+.5)","as":"y"}],
"mark":{"type":"point","filled":true,"opacity":1,"shape":"M-.94,-.19L-.1,.48L.94,.19L.1,-.48Z","size":80},
"encoding":{"color":{"field":"j","type":"quantitative","scale":{"domain":[0,2,3,4,5,6,7,8,9],"range":["#2e2a8c","#3c50c0","#3aa0dc","#50d8b0","#78d850","#e8e820","#f8a820","#ee5a20","#dc2a1c"]},"legend":null}}},
{"data":{"name":"p5"},"transform":[{"filter":"datum.z>0"},{"calculate":"9+7.75*(datum.i+.5)+6.3*(datum.j+.5)","as":"u"},{"calculate":"103+5*(datum.i+.5)-2.2*(datum.j+.5)","as":"y2"},{"calculate":"datum.y2-82*datum.z","as":"y"},{"calculate":"datum.u-3.1","as":"x"},{"calculate":"datum.u+3.1","as":"x2"}],
"mark":{"type":"rect","stroke":"#000","strokeWidth":1.1,"cornerRadius":2},
"encoding":{"x2":{"field":"x2"},"y2":{"field":"y2"},"color":{"field":"j","type":"quantitative","scale":{"domain":[0,2,3,4,5,6,7,8,9],"range":["#2e2a8c","#3c50c0","#3aa0dc","#50d8b0","#78d850","#e8e820","#f8a820","#ee5a20","#dc2a1c"]},"legend":null}}},
{"data":{"values":[{"a":0,"b":0,"c":0,"d":0,"e":0,"f":1},{"a":0,"b":0,"c":0,"d":0,"e":0.4,"f":0},{"a":0,"b":0,"c":0.2,"d":0,"e":0.4,"f":0.2},{"a":0,"b":0,"c":0.4,"d":0,"e":0.4,"f":0.4},{"a":0,"b":0,"c":0.6,"d":0,"e":0.4,"f":0.6},{"a":0,"b":0,"c":0.8,"d":0,"e":0.4,"f":0.8}]},
"transform":[{"calculate":"9+7.75*datum.a+6.3*datum.b","as":"x"},{"calculate":"103+5*datum.a-2.2*datum.b-82*datum.c","as":"y"},{"calculate":"9+7.75*datum.d+6.3*datum.e","as":"x2"},{"calculate":"103+5*datum.d-2.2*datum.e-82*datum.f","as":"y2"}],
"mark":{"type":"rule","color":"#222","strokeWidth":1.2},"encoding":{"x2":{"field":"x2"},"y2":{"field":"y2"}}},
{"data":{"values":[{"t":"-2","i":2.69,"j":-2.52},{"t":"0","i":6.56,"j":-2.36},{"t":"2","i":10.34,"j":-2.4},{"t":"-3.3","i":13.8,"j":0},{"t":"-0.3","i":13.6,"j":5},{"t":"2.7","i":13.5,"j":9.75}]},
"transform":[{"calculate":"9+7.75*datum.i+6.3*datum.j","as":"x"},{"calculate":"103+5*datum.i-2.2*datum.j","as":"y"}],"mark":{"type":"text","fontSize":11,"baseline":"middle"},"encoding":{"text":{"field":"t"}}},
{"data":{"values":[{"t":"0","i":-0.4,"j":-0.45,"z":0},{"t":"0.2","i":-0.4,"j":-0.45,"z":0.2},{"t":"0.4","i":-0.4,"j":-0.45,"z":0.4},{"t":"0.6","i":-0.4,"j":-0.45,"z":0.6},{"t":"0.8","i":-0.4,"j":-0.45,"z":0.8}]},
"transform":[{"calculate":"9+7.75*datum.i+6.3*datum.j","as":"x"},{"calculate":"103+5*datum.i-2.2*datum.j-82*datum.z","as":"y"}],"mark":{"type":"text","fontSize":11,"baseline":"middle","align":"right"},"encoding":{"text":{"field":"t"}}},
{"data":{"values":[{"t":"X","i":10.38,"j":-6.4},{"t":"Y","i":15.7,"j":1.6}]},
"transform":[{"calculate":"9+7.75*datum.i+6.3*datum.j","as":"x"},{"calculate":"103+5*datum.i-2.2*datum.j","as":"y"}],"mark":{"type":"text","fontSize":13.5,"baseline":"middle","color":"#333"},"encoding":{"text":{"field":"t"}}},
{"data":{"values":[{"t":"P","x":62,"y":-19},{"t":"(Y|X)","x":78,"y":-19}]},"mark":{"type":"text","fontSize":13,"baseline":"middle","align":"left","color":"#333"},"encoding":{"text":{"field":"t"}}},
{"data":{"values":[{"t":"s","x":72,"y":-12}]},"mark":{"type":"text","fontSize":10,"baseline":"middle","align":"left","color":"#333"},"encoding":{"text":{"field":"t"}}}
]},
{"width":176,"height":165,
"encoding":{"x":{"field":"x","type":"quantitative","scale":{"domain":[-4,4]},"axis":{"title":"Y","values":[-4,-2,0,2,4],"titlePadding":7,"format":"d"}},"y":{"field":"y","type":"quantitative","scale":{"domain":[-0.05,0.3]},"axis":{"title":null,"values":[-0.05,0,0.05,0.1,0.15,0.2,0.25,0.3],"format":".2~f"}}},
"layer":[
{"data":{"values":[{"x":-3.65,"x2":-3.05,"y":0.001},{"x":-3.05,"x2":-2.44,"y":0.007},{"x":-2.44,"x2":-1.84,"y":0.033},{"x":-1.84,"x2":-1.23,"y":0.08},{"x":-1.23,"x2":-0.63,"y":0.161},{"x":-0.63,"x2":-0.02,"y":0.209},{"x":-0.02,"x2":0.59,"y":0.235},{"x":0.59,"x2":1.17,"y":0.153},{"x":1.17,"x2":1.77,"y":0.091},{"x":1.77,"x2":2.39,"y":0.026},{"x":2.39,"x2":3,"y":0.005}]},"mark":{"type":"rect","fill":"#3a2e96","stroke":"#111","strokeWidth":1},"encoding":{"x2":{"field":"x2"},"y2":{"datum":0}}},
{"data":{"values":[{"x":-3.35,"y":0,"y2":0.002},{"x":-2.74,"y":0.002,"y2":0.011},{"x":-2.14,"y":0.017,"y2":0.048},{"x":-1.53,"y":0.06,"y2":0.097},{"x":-0.94,"y":0.135,"y2":0.188},{"x":-0.33,"y":0.175,"y2":0.242},{"x":0.27,"y":0.206,"y2":0.264},{"x":0.88,"y":0.123,"y2":0.184},{"x":1.47,"y":0.07,"y2":0.112},{"x":2.08,"y":0.016,"y2":0.039},{"x":2.67,"y":0,"y2":0.008}]},"mark":{"type":"errorbar","ticks":{"size":5,"color":"#e84040"},"rule":{"color":"#e84040","strokeWidth":1.2}},"encoding":{"y2":{"field":"y2"}}},
{"data":{"values":[{"x":-2.5,"x2":2.364,"y":0.3488,"y2":0.3064}]},"mark":{"type":"rect","fill":"#3cb944"},"encoding":{"x2":{"field":"x2"},"y2":{"field":"y2"}}},
{"data":{"values":[{"t":"CDS(Y|X) = 0.028","x":-0.068,"y":0.3276}]},"mark":{"type":"text","fontSize":12.5,"baseline":"middle","color":"#123"},"encoding":{"text":{"field":"t"}}}
]}
]},
{"spacing":57,"bounds":"flush","hconcat":[
{"width":177,"height":165,
"encoding":{"x":{"field":"x","type":"quantitative","scale":{"domain":[-4,4]},"axis":{"title":"X","values":[-4,-2,0,2,4],"titlePadding":7,"format":"d"}},"y":{"field":"y","type":"quantitative","scale":{"domain":[0,300]},"axis":{"title":null,"values":[0,50,100,150,200,250,300],"format":"d"}}},
"layer":[
{"data":{"values":[{"x":-3.2,"x2":-2.86,"y":7},{"x":-2.86,"x2":-2.52,"y":5},{"x":-2.52,"x2":-2.18,"y":16},{"x":-2.18,"x2":-1.84,"y":41},{"x":-1.84,"x2":-1.5,"y":69},{"x":-1.5,"x2":-1.16,"y":111},{"x":-1.16,"x2":-0.82,"y":183},{"x":-0.82,"x2":-0.48,"y":196},{"x":-0.48,"x2":-0.14,"y":286},{"x":-0.14,"x2":0.2,"y":248},{"x":0.2,"x2":0.54,"y":254},{"x":0.54,"x2":0.88,"y":208},{"x":0.88,"x2":1.22,"y":149},{"x":1.22,"x2":1.56,"y":119},{"x":1.56,"x2":1.9,"y":50},{"x":1.9,"x2":2.24,"y":37},{"x":2.24,"x2":2.58,"y":14},{"x":2.58,"x2":2.92,"y":7},{"x":2.92,"x2":3.26,"y":2},{"x":3.26,"x2":3.6,"y":3}]},"mark":{"type":"rect","fill":"#3a2e96","stroke":"#111","strokeWidth":1},"encoding":{"x2":{"field":"x2"},"y2":{"datum":0}}},
{"data":{"values":[{"x":-3.05,"x2":2.915,"y":350.9,"y2":305.5}]},"mark":{"type":"rect","fill":"#e9e016"},"encoding":{"x2":{"field":"x2"},"y2":{"field":"y2"}}},
{"data":{"values":[{"t":"S","x":-2.96,"y":332.7},{"t":"= 1.18; H","x":-2.24,"y":332.7},{"t":"= 0.84","x":0.38,"y":332.7}]},"mark":{"type":"text","fontSize":12,"baseline":"middle","align":"left","color":"#332"},"encoding":{"text":{"field":"t"}}},
{"data":{"values":[{"t":"Y","x":-2.51,"y":321},{"t":"X","x":0.1,"y":321}]},"mark":{"type":"text","fontSize":9,"baseline":"middle","align":"left","color":"#332"},"encoding":{"text":{"field":"t"}}}
]},
{"width":177,"height":165,
"encoding":{"x":{"field":"x","type":"quantitative","scale":{"domain":[-5,5]},"axis":{"title":"X","values":[-5,0,5],"titlePadding":7,"format":"d"}},"y":{"field":"y","type":"quantitative","scale":{"domain":[-0.05,0.3]},"axis":{"title":null,"values":[-0.05,0,0.05,0.1,0.15,0.2,0.25,0.3],"format":".2~f"}}},
"layer":[
{"data":{"values":[{"x":-4.87,"x2":-4.26,"y":0},{"x":-4.26,"x2":-3.66,"y":0.002},{"x":-3.66,"x2":-3.05,"y":0.001},{"x":-3.05,"x2":-2.45,"y":0.007},{"x":-2.45,"x2":-1.85,"y":0.024},{"x":-1.85,"x2":-1.24,"y":0.073},{"x":-1.24,"x2":-0.64,"y":0.162},{"x":-0.64,"x2":-0.03,"y":0.226},{"x":-0.03,"x2":0.57,"y":0.235},{"x":0.57,"x2":1.17,"y":0.164},{"x":1.17,"x2":1.78,"y":0.071},{"x":1.78,"x2":2.38,"y":0.022},{"x":2.38,"x2":2.98,"y":0.008},{"x":2.98,"x2":3.59,"y":0.002},{"x":3.59,"x2":4.2,"y":0.001}]},"mark":{"type":"rect","fill":"#3a2e96","stroke":"#111","strokeWidth":1},"encoding":{"x2":{"field":"x2"},"y2":{"datum":0}}},
{"data":{"values":[{"x":-4.57,"y":0,"y2":0.001},{"x":-3.96,"y":0,"y2":0.004},{"x":-3.35,"y":0,"y2":0.001},{"x":-2.75,"y":-0.002,"y2":0.015},{"x":-2.15,"y":0.007,"y2":0.041},{"x":-1.55,"y":0.051,"y2":0.097},{"x":-0.94,"y":0.112,"y2":0.21},{"x":-0.34,"y":0.194,"y2":0.258},{"x":0.27,"y":0.185,"y2":0.286},{"x":0.87,"y":0.123,"y2":0.205},{"x":1.47,"y":0.049,"y2":0.092},{"x":2.08,"y":0.01,"y2":0.035},{"x":2.68,"y":0.003,"y2":0.015},{"x":3.29,"y":-0.002,"y2":0.008},{"x":3.89,"y":0,"y2":0.001}]},"mark":{"type":"errorbar","ticks":{"size":5,"color":"#e84040"},"rule":{"color":"#e84040","strokeWidth":1.2}},"encoding":{"y2":{"field":"y2"}}},
{"data":{"values":[{"x":-3.136,"x2":2.91,"y":0.3467,"y2":0.3064}]},"mark":{"type":"rect","fill":"#3cb944"},"encoding":{"x2":{"field":"x2"},"y2":{"field":"y2"}}},
{"data":{"values":[{"t":"CDS(X|Y) = 0.039","x":-0.113,"y":0.3276}]},"mark":{"type":"text","fontSize":12.5,"baseline":"middle","color":"#123"},"encoding":{"text":{"field":"t"}}}
]},
{"width":176,"height":165,"view":{"stroke":null},
"encoding":{"x":{"field":"x","type":"quantitative","scale":{"domain":[0,176]},"axis":null},"y":{"field":"y","type":"quantitative","scale":{"domain":[165,0]},"axis":null}},
"layer":[
{"data":{"values":[{"a":0,"b":0,"c":0.2,"d":0,"e":12,"f":0.2},{"a":0,"b":12,"c":0.2,"d":12,"e":12,"f":0.2},{"a":0,"b":3.2,"c":0,"d":0,"e":3.2,"f":0.375},{"a":0,"b":6.3,"c":0,"d":0,"e":6.3,"f":0.375},{"a":0,"b":9.4,"c":0,"d":0,"e":9.4,"f":0.375},{"a":0,"b":12,"c":0,"d":0,"e":12,"f":0.375},{"a":2.9,"b":12,"c":0,"d":2.9,"e":12,"f":0.375},{"a":5.8,"b":12,"c":0,"d":5.8,"e":12,"f":0.375},{"a":8.7,"b":12,"c":0,"d":8.7,"e":12,"f":0.375},{"a":11.7,"b":12,"c":0,"d":11.7,"e":12,"f":0.375}]},
"transform":[{"calculate":"5.5*datum.a+9.17*datum.b","as":"x"},{"calculate":"109+3.92*datum.a-3.5*datum.b-160*datum.c","as":"y"},{"calculate":"5.5*datum.d+9.17*datum.e","as":"x2"},{"calculate":"109+3.92*datum.d-3.5*datum.e-160*datum.f","as":"y2"}],
"mark":{"type":"rule","strokeDash":[1,3.5],"color":"#222","strokeWidth":1},"encoding":{"x2":{"field":"x2"},"y2":{"field":"y2"}}},
{"data":{"name":"p9"},"transform":[{"calculate":"5.5*(datum.i+.5)+9.17*(datum.j+.5)","as":"x"},{"calculate":"109+3.92*(datum.i+.5)-3.5*(datum.j+.5)","as":"y"}],
"mark":{"type":"point","filled":true,"opacity":1,"color":"#14143a","shape":"M-.98,-.03L-.24,.49L.98,.03L.24,-.49Z","size":225}},
{"data":{"name":"p9"},"transform":[{"calculate":"5.5*(datum.i+.5)+9.17*(datum.j+.5)","as":"x"},{"calculate":"109+3.92*(datum.i+.5)-3.5*(datum.j+.5)","as":"y"}],
"mark":{"type":"point","filled":true,"opacity":1,"shape":"M-.98,-.03L-.24,.49L.98,.03L.24,-.49Z","size":70},
"encoding":{"color":{"field":"j","type":"quantitative","scale":{"domain":[0,2,3,4,5,6,7,8,9,10,11],"range":["#2e2a8c","#3c50c0","#3a8ad8","#45c0e0","#5fdcc8","#88dc80","#c8e040","#f4e020","#f8a820","#ee6420","#dc2a1c"]},"legend":null}}},
{"data":{"name":"p9"},"transform":[{"filter":"datum.z>0"},{"calculate":"5.5*(datum.i+.5)+9.17*(datum.j+.5)","as":"u"},{"calculate":"109+3.92*(datum.i+.5)-3.5*(datum.j+.5)","as":"y2"},{"calculate":"datum.y2-160*datum.z","as":"y"},{"calculate":"datum.u-3.5","as":"x"},{"calculate":"datum.u+3.5","as":"x2"}],
"mark":{"type":"rect","stroke":"#000","strokeWidth":1.1,"cornerRadius":2},
"encoding":{"x2":{"field":"x2"},"y2":{"field":"y2"},"color":{"field":"j","type":"quantitative","scale":{"domain":[0,2,3,4,5,6,7,8,9,10,11],"range":["#2e2a8c","#3c50c0","#3a8ad8","#45c0e0","#5fdcc8","#88dc80","#c8e040","#f4e020","#f8a820","#ee6420","#dc2a1c"]},"legend":null}}},
{"data":{"values":[{"a":0,"b":0,"c":0,"d":0,"e":0,"f":0.375},{"a":0,"b":0,"c":0,"d":0,"e":0.4,"f":0},{"a":0,"b":0,"c":0.2,"d":0,"e":0.4,"f":0.2}]},
"transform":[{"calculate":"5.5*datum.a+9.17*datum.b","as":"x"},{"calculate":"109+3.92*datum.a-3.5*datum.b-160*datum.c","as":"y"},{"calculate":"5.5*datum.d+9.17*datum.e","as":"x2"},{"calculate":"109+3.92*datum.d-3.5*datum.e-160*datum.f","as":"y2"}],
"mark":{"type":"rule","color":"#222","strokeWidth":1.2},"encoding":{"x2":{"field":"x2"},"y2":{"field":"y2"}}},
{"data":{"values":[{"t":"-4","i":1.55,"j":-1.69},{"t":"-2","i":4.33,"j":-1.72},{"t":"0","i":7.13,"j":-1.44},{"t":"2","i":9.74,"j":-1.37},{"t":"4","i":12.5,"j":-1.4},{"t":"-1.73","i":14.5,"j":0.8},{"t":"-0.8","i":14.3,"j":3.74},{"t":"0.14","i":14.55,"j":6.87},{"t":"1.07","i":14.56,"j":10}]},
"transform":[{"calculate":"5.5*datum.i+9.17*datum.j","as":"x"},{"calculate":"109+3.92*datum.i-3.5*datum.j","as":"y"}],"mark":{"type":"text","fontSize":11,"baseline":"middle"},"encoding":{"text":{"field":"t"}}},
{"data":{"values":[{"t":"0","i":-0.7,"j":-0.35,"z":0},{"t":"0.2","i":-0.7,"j":-0.35,"z":0.2}]},
"transform":[{"calculate":"5.5*datum.i+9.17*datum.j","as":"x"},{"calculate":"109+3.92*datum.i-3.5*datum.j-160*datum.z","as":"y"}],"mark":{"type":"text","fontSize":11,"baseline":"middle","align":"right"},"encoding":{"text":{"field":"t"}}},
{"data":{"values":[{"t":"X","i":10.53,"j":-3.92},{"t":"Y","i":16.85,"j":2.87}]},
"transform":[{"calculate":"5.5*datum.i+9.17*datum.j","as":"x"},{"calculate":"109+3.92*datum.i-3.5*datum.j","as":"y"}],"mark":{"type":"text","fontSize":13.5,"baseline":"middle","color":"#333"},"encoding":{"text":{"field":"t"}}},
{"data":{"values":[{"t":"P","x":62,"y":-9},{"t":"(X|Y)","x":77,"y":-9}]},"mark":{"type":"text","fontSize":13,"baseline":"middle","align":"left","color":"#333"},"encoding":{"text":{"field":"t"}}},
{"data":{"values":[{"t":"s","x":71,"y":-1}]},"mark":{"type":"text","fontSize":10,"baseline":"middle","align":"left","color":"#333"},"encoding":{"text":{"field":"t"}}}
]}
]}
]}
